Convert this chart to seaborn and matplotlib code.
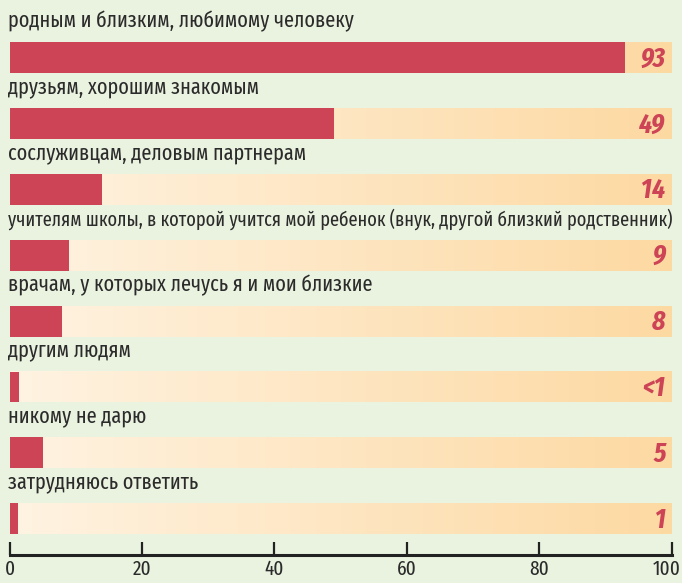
import matplotlib
matplotlib.use("Agg")
import matplotlib.pyplot as plt
import numpy as np
import pandas as pd
import seaborn as sns
from matplotlib.colors import LinearSegmentedColormap
from matplotlib.transforms import ScaledTranslation

categories = [
    "родным и близким, любимому человеку",
    "друзьям, хорошим знакомым",
    "сослуживцам, деловым партнерам",
    "учителям школы, в которой учится мой ребенок (внук, другой близкий родственник)",
    "врачам, у которых лечусь я и мои близкие",
    "другим людям",
    "никому не дарю",
    "затрудняюсь ответить",
]
values = [93, 49, 14, 9, 8, 1.4, 5, 1.3]
value_labels = ["93", "49", "14", "9", "8", "<1", "5", "1"]
xticks = [0, 20, 40, 60, 80, 100]

BG = "#eaf3df"
RED = "#cc4455"
TXT = "#2b2b2b"

sns.set_theme(style="white")
plt.rcParams["font.family"] = ["Fira Sans Extra Condensed", "DejaVu Sans"]

W, H = 682, 583
fig = plt.figure(figsize=(W / 100, H / 100), dpi=100, facecolor=BG)
ax_bottom_px = 555
ax = fig.add_axes([9.5 / W, (H - ax_bottom_px) / H, 662 / W, ax_bottom_px / H])
ax.set_facecolor(BG)

df = pd.DataFrame({"cat": categories, "val": values})
bar_h = 0.47

cmap = LinearSegmentedColormap.from_list("band", ["#fff3e2", "#fdd9a2"])
grad = np.linspace(0, 1, 256).reshape(1, -1)
for i in range(len(categories)):
    ax.imshow(grad, cmap=cmap, extent=[0, 100, i + bar_h / 2, i - bar_h / 2],
              aspect="auto", zorder=0, interpolation="bicubic")

sns.barplot(data=df, x="val", y="cat", orient="h", color=RED, width=bar_h,
            saturation=1, linewidth=0, edgecolor="none", ax=ax, zorder=2)

cat_texts = []
for i, (cat, lab) in enumerate(zip(categories, value_labels)):
    t = ax.text(-0.2, i - 0.55, cat, ha="left", va="center", fontsize=15.8,
                color=TXT, zorder=3)
    cat_texts.append(t)
    ax.text(99.1, i + 0.02, lab, ha="right", va="center", fontsize=20,
            fontweight="bold", fontstyle="italic", color=RED, zorder=3)

px_per = 65.9
top = (0 - 57.5) / px_per
bottom = (ax_bottom_px - 57.5) / px_per
ax.set_ylim(bottom, top)
ax.set_xlim(0, 100)
ax.set_yticks([])
ax.set_ylabel("")
ax.set_xlabel("")
ax.set_xticks(xticks)
ax.set_xticklabels([str(t) for t in xticks])
for s in ["left", "top", "right"]:
    ax.spines[s].set_visible(False)
ax.spines["bottom"].set_color("#222222")
ax.spines["bottom"].set_linewidth(2.2)
ax.tick_params(axis="x", direction="in", length=9.5, width=1.6, color="#222222",
               labelsize=15, labelcolor=TXT, pad=3, bottom=True)
labels = ax.get_xticklabels()
for lbl in labels:
    lbl.set_clip_on(False)
labels[-1].set_horizontalalignment("right")
labels[-1].set_transform(labels[-1].get_transform()
                         + ScaledTranslation(9 / 100, 0, fig.dpi_scale_trans))

# shrink any category label that would run past the right edge
fig.canvas.draw()
renderer = fig.canvas.get_renderer()
limit = 672
for t in cat_texts:
    bb = t.get_window_extent(renderer)
    if bb.x1 > limit:
        t.set_fontsize(t.get_fontsize() * (limit - bb.x0) / (bb.x1 - bb.x0))

fig.savefig("out.png", dpi=100, facecolor=BG)
